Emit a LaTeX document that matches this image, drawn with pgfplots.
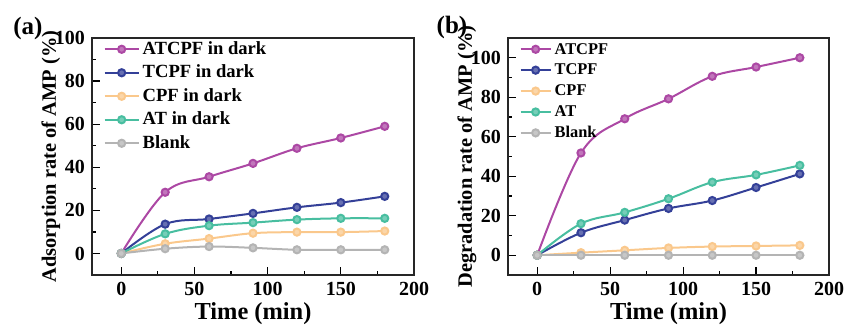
\documentclass[border=0pt]{standalone}
\usepackage{fontspec}
\setmainfont{Liberation Serif}
\usepackage{pgfplots}
\pgfplotsset{compat=1.18}
\definecolor{cA}{RGB}{172,72,164}
\definecolor{cT}{RGB}{52,64,152}
\definecolor{cC}{RGB}{250,200,140}
\definecolor{cAT}{RGB}{72,190,160}
\definecolor{cB}{RGB}{180,180,180}
\pgfplotsset{
  myaxis/.style={
    scale only axis, width=161pt, height=118.5pt,
    xmin=-20, xmax=200, xtick={0,50,...,200}, minor x tick num=1,
    ymin=-10,
    minor y tick num=1,
    tick align=inside, xtick pos=lower, ytick pos=left,
    major tick length=4pt, minor tick length=2.2pt,
    tick style={line width=0.6pt, black},
    axis line style={line width=0.6pt, black!85},
    ticklabel style={font=\fontsize{10}{11}\selectfont\bfseries},
    /pgf/number format/assume math mode=true,
    xlabel style={font=\fontsize{12.2}{14}\selectfont\bfseries, at={(axis description cs:0.5,-0.165)}, anchor=center},
    ylabel style={font=\fontsize{10.2}{11}\selectfont\bfseries, at={(axis description cs:-0.128,0.5)}, anchor=center},
    legend cell align=left,
    legend style={draw=none, fill=none, inner xsep=0pt, inner ysep=0pt,
      at={(axis description cs:0.035,0.987)}, anchor=north west,
      nodes={inner sep=0pt, text height=6.3pt, text depth=1.5pt},
      /tikz/every odd column/.append style={column sep=1.5pt}},
    every axis plot/.append style={line width=1pt, smooth, tension=0.6, mark=*, mark size=1.8pt},
  },
  ball/.style={color=#1, mark options={fill=#1!75!white, draw=#1}},
}
\begin{document}
\begin{tikzpicture}
\path[use as bounding box] (0,0) rectangle (422pt,162.5pt);
\begin{axis}[myaxis, at={(46pt,25pt)}, anchor=south west,
  ymax=100, ytick={0,20,...,100},
  xlabel={Time (min)}, ylabel={Adsorption rate of AMP (\%)},
  legend style={row sep=3.95pt, font=\fontsize{9.3}{10}\selectfont\bfseries},
  legend image code/.code={\draw[#1,mark repeat=2,mark phase=2] plot coordinates {(0pt,0pt)(8.5pt,0pt)(17pt,0pt)};}]
\addplot[ball=cA] coordinates {(0,0)(30,28.4)(60,35.6)(90,41.8)(120,48.8)(150,53.6)(180,59.0)};
\addlegendentry{ATCPF in dark}
\addplot[ball=cT] coordinates {(0,0)(30,13.6)(60,16.0)(90,18.6)(120,21.4)(150,23.6)(180,26.5)};
\addlegendentry{TCPF in dark}
\addplot[ball=cC] coordinates {(0,0)(30,4.5)(60,6.9)(90,9.4)(120,9.9)(150,9.9)(180,10.4)};
\addlegendentry{CPF in dark}
\addplot[ball=cAT] coordinates {(0,0)(30,9.1)(60,12.9)(90,14.3)(120,15.7)(150,16.3)(180,16.3)};
\addlegendentry{AT in dark}
\addplot[ball=cB] coordinates {(0,0)(30,2.2)(60,3.2)(90,2.6)(120,1.7)(150,1.7)(180,1.7)};
\addlegendentry{Blank}
\end{axis}
\begin{axis}[myaxis, at={(254pt,25pt)}, anchor=south west, width=160.5pt,
  ymax=110, ytick={0,20,...,100},
  xlabel={Time (min)}, ylabel={Degradation rate of AMP (\%)},
  legend style={row sep=2.65pt, font=\fontsize{8.2}{9}\selectfont\bfseries},
  legend image code/.code={\draw[#1,mark repeat=2,mark phase=2] plot coordinates {(0pt,0pt)(7.5pt,0pt)(15pt,0pt)};}]
\addplot[ball=cA] coordinates {(0,0)(30,51.8)(60,69.1)(90,79.2)(120,90.6)(150,95.3)(180,100)};
\addlegendentry{ATCPF}
\addplot[ball=cT] coordinates {(0,0)(30,11.4)(60,17.8)(90,23.7)(120,27.7)(150,34.3)(180,41.2)};
\addlegendentry{TCPF}
\addplot[ball=cC] coordinates {(0,0)(30,1.3)(60,2.5)(90,3.7)(120,4.4)(150,4.7)(180,5.0)};
\addlegendentry{CPF}
\addplot[ball=cAT] coordinates {(0,0)(30,16.0)(60,21.7)(90,28.6)(120,37.0)(150,40.7)(180,45.5)};
\addlegendentry{AT}
\addplot[ball=cB] coordinates {(0,0)(30,0)(60,0)(90,0)(120,0)(150,0)(180,0)};
\addlegendentry{Blank}
\end{axis}
\node[font=\fontsize{12.5}{14}\selectfont\bfseries] at (14pt,148.5pt) {(a)};
\node[font=\fontsize{12.5}{14}\selectfont\bfseries] at (226pt,149pt) {(b)};
\end{tikzpicture}
\end{document}
